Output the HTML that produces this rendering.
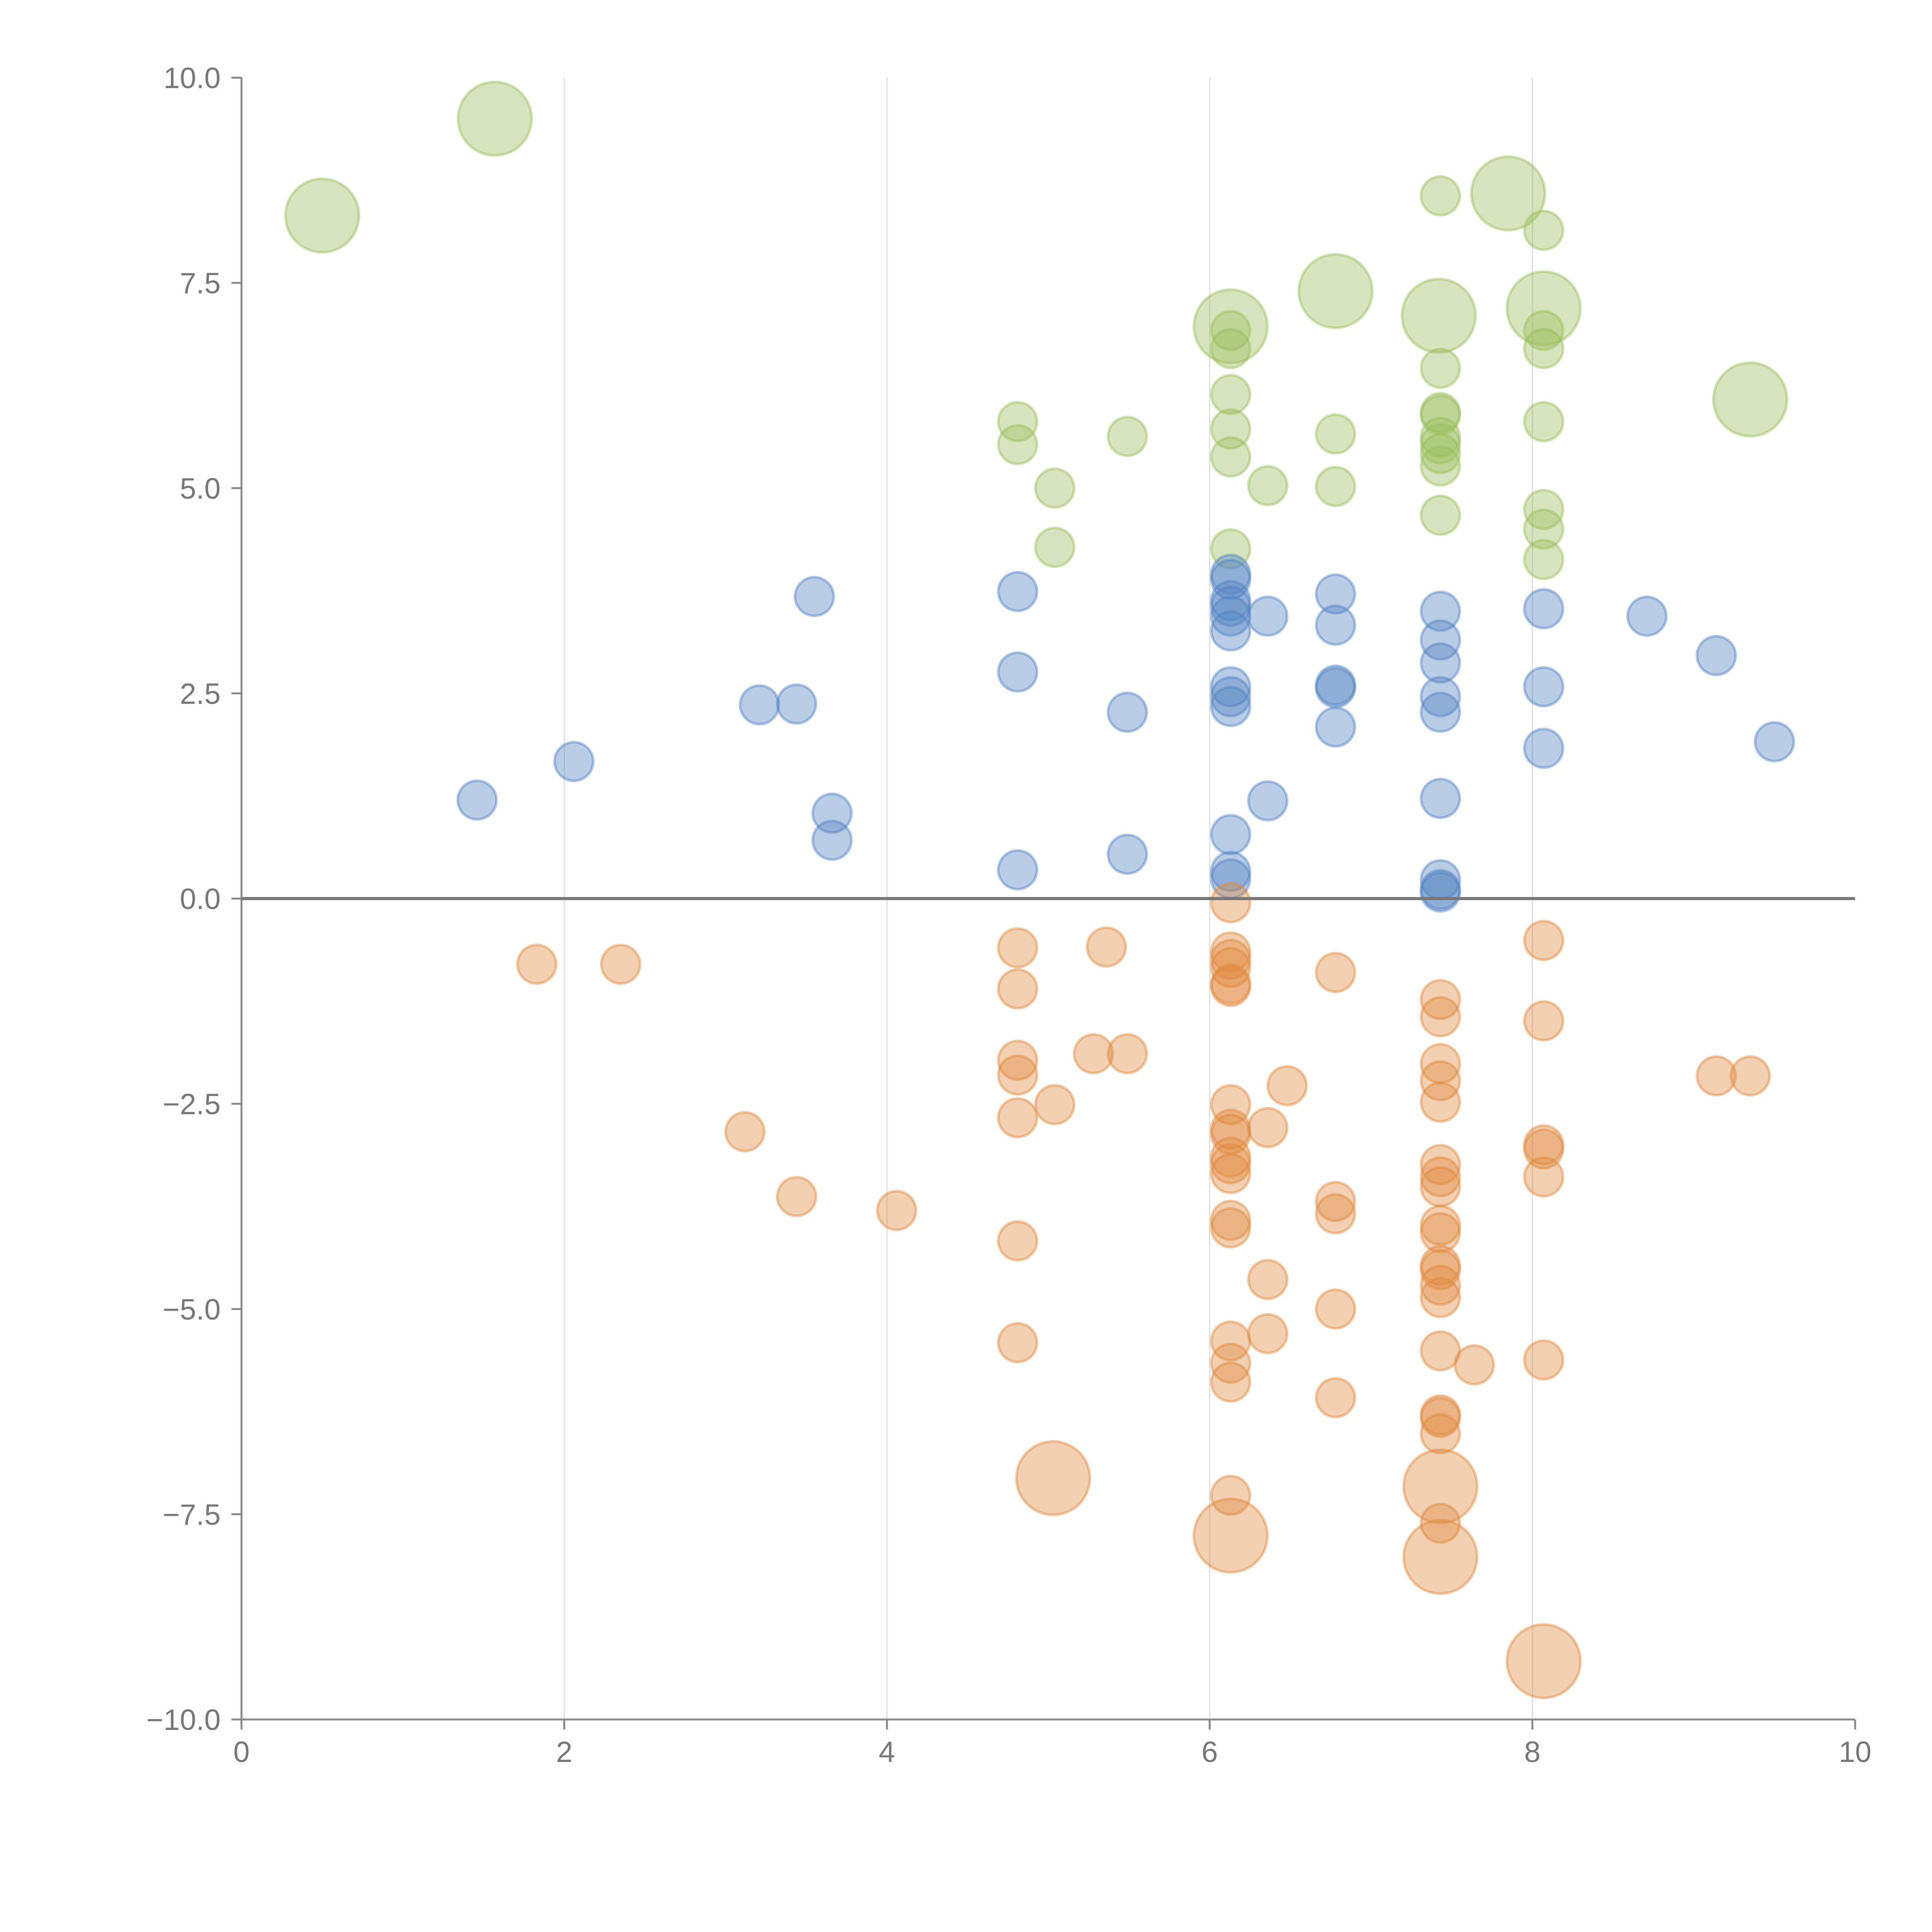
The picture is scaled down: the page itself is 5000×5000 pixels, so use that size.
<!DOCTYPE html>
<html><head><meta charset="utf-8">
<style>
html,body{margin:0;padding:0;background:#fff;}
svg{display:block;font-family:"Liberation Sans",sans-serif;}
</style></head>
<body>
<svg id="chart" width="5000" height="5000" viewBox="0 0 5000 5000" xmlns="http://www.w3.org/2000/svg">
<g id="grid"></g>
<g id="axes"></g>
<g id="marks"></g>
</svg>
<script>
const xTicks=[0,2,4,6,8,10];
const yTicks=[-10,-7.5,-5,-2.5,0,2.5,5,7.5,10];
const yTickLabels=["\u221210.0","\u22127.5","\u22125.0","\u22122.5","0.0","2.5","5.0","7.5","10.0"];
const xTickLabels=["0","2","4","6","8","10"];

const greenX=[0.50,1.57,7.43,7.85,8.07,6.78,7.42,8.07,6.13,6.13,6.13,8.07,8.07,7.43,9.35,6.13,7.43,7.43,4.81,8.07,6.13,6.78,5.49,7.43,7.43,4.81,6.13,7.43,7.43,6.36,6.78,5.04,8.07,7.43,8.07,5.04,6.13,8.07];
const greenY=[8.32,9.50,8.56,8.59,8.14,7.40,7.10,7.19,6.97,6.92,6.70,6.92,6.70,6.46,6.08,6.14,5.92,5.89,5.81,5.81,5.72,5.66,5.63,5.62,5.54,5.53,5.38,5.42,5.27,5.03,5.02,5.00,4.74,4.67,4.50,4.28,4.26,4.13];
const greenS=[2,2,1,2,1,2,2,2,2,1,1,1,1,1,2,1,1,1,1,1,1,1,1,1,1,1,1,1,1,1,1,1,1,1,1,1,1,1];

const blueX=[1.46,2.06,3.21,3.44,3.55,3.66,3.66,4.81,4.81,4.81,5.49,5.49,6.13,6.13,6.13,6.13,6.13,6.13,6.13,6.13,6.13,6.13,6.13,6.13,6.36,6.36,6.78,6.78,6.78,6.78,6.78,7.43,7.43,7.43,7.43,7.43,7.43,7.43,7.43,7.43,8.07,8.07,8.07,8.71,9.14,9.50];
const blueY=[1.20,1.67,2.36,2.37,3.68,1.04,0.71,3.74,2.76,0.35,2.27,0.54,3.95,3.89,3.63,3.56,3.44,3.26,2.58,2.46,2.34,0.78,0.33,0.24,3.44,1.19,3.71,3.33,2.60,2.57,2.09,3.50,3.15,2.87,2.46,2.27,1.22,0.23,0.11,0.08,3.53,2.58,1.83,3.44,2.96,1.91];

const orangeX=[1.83,2.35,3.12,3.44,4.06,4.81,4.81,4.81,4.81,4.81,4.81,4.81,5.04,5.28,5.36,5.49,5.03,6.13,6.13,6.13,6.13,6.13,6.13,6.13,6.13,6.13,6.13,6.13,6.13,6.13,6.13,6.13,6.13,6.13,6.13,6.13,6.36,6.36,6.36,6.48,6.78,6.78,6.78,6.78,6.78,7.43,7.43,7.43,7.43,7.43,7.43,7.43,7.43,7.43,7.43,7.43,7.43,7.43,7.43,7.43,7.43,7.43,7.43,7.43,7.43,7.43,7.64,8.07,8.07,8.07,8.07,8.07,8.07,8.07,9.14,9.35];
const orangeY=[-0.80,-0.80,-2.84,-3.63,-3.80,-0.60,-1.10,-1.97,-2.15,-2.67,-4.17,-5.41,-2.51,-1.89,-0.59,-1.89,-7.06,-0.05,-0.65,-0.74,-0.84,-1.04,-1.07,-2.51,-2.81,-2.87,-3.15,-3.23,-3.35,-3.92,-4.01,-5.39,-5.66,-5.89,-7.27,-7.76,-2.79,-4.64,-5.30,-2.28,-0.90,-3.69,-3.84,-5.00,-6.08,-1.23,-1.44,-2.01,-2.22,-2.48,-3.24,-3.39,-3.51,-3.98,-4.07,-4.47,-4.52,-4.71,-4.86,-5.51,-6.29,-6.32,-6.52,-7.16,-7.61,-8.02,-5.68,-0.51,-1.49,-3.00,-3.05,-3.39,-5.62,-9.29,-2.16,-2.16];
const orangeS=[1,1,1,1,1,1,1,1,1,1,1,1,1,1,1,1,2,1,1,1,1,1,1,1,1,1,1,1,1,1,1,1,1,1,1,2,1,1,1,1,1,1,1,1,1,1,1,1,1,1,1,1,1,1,1,1,1,1,1,1,1,1,1,2,1,2,1,1,1,1,1,1,1,2,1,1];

const X0=625,X1=4801,Y0=4450,Y1=201;
const sx=v=>X0+(v-0)/(10-0)*(X1-X0);
const sy=v=>Y0-(v+10)/20*(Y0-Y1);
const sr=s=>s===2?95:50;
const NS="http://www.w3.org/2000/svg";
function mk(tag,attrs,parent){const e=document.createElementNS(NS,tag);for(const k in attrs)e.setAttribute(k,attrs[k]);parent.appendChild(e);return e;}
const grid=document.getElementById('grid'),axes=document.getElementById('axes'),marks=document.getElementById('marks');

xTicks.forEach((t,i)=>{
  if(t>0&&t<10){const g=mk('line',{x1:sx(t),x2:sx(t),y1:Y1,y2:Y0,stroke:'#dddddd','stroke-width':3},grid);
  
  }
  const tk=mk('line',{x1:sx(t),x2:sx(t),y1:Y0,y2:Y0+26,stroke:'#888','stroke-width':5},axes);
  
  
  const tx=mk('text',{x:sx(t),y:Y0+110,'text-anchor':'middle','font-size':76,fill:'#777'},axes);
  tx.textContent=xTickLabels[i];
  
  
});
yTicks.forEach((t,i)=>{
  const tk=mk('line',{x1:X0-26,x2:X0,y1:sy(t),y2:sy(t),stroke:'#888','stroke-width':5},axes);
  
  
  const tx=mk('text',{x:X0-54,y:sy(t)+27,'text-anchor':'end','font-size':76,fill:'#777'},axes);
  tx.textContent=yTickLabels[i];
  
  
});
const ya=mk('line',{x1:X0,x2:X0,y1:Y1,y2:Y0,stroke:'#888','stroke-width':5},axes);


const xa=mk('line',{x1:X0,x2:X1,y1:Y0,y2:Y0,stroke:'#888','stroke-width':5},axes);



function series(xs,ys,ss,col,name){
  const g=mk('g',{},marks);
  
  
  xs.forEach((x,i)=>{
    const c=mk('circle',{cx:sx(x),cy:sy(ys[i]),r:sr(ss?ss[i]:1),fill:col,'fill-opacity':0.4,stroke:col,'stroke-opacity':0.45,'stroke-width':7},g);
    
    
  });
}
series(greenX,greenY,greenS,'#9cbd5c','green');
series(blueX,blueY,null,'#5282c2','blue');
series(orangeX,orangeY,orangeS,'#e08a3e','orange');

const zl=mk('line',{x1:X0,x2:X1,y1:sy(0),y2:sy(0),stroke:'#777','stroke-width':8},marks);


</script>
</body></html>
